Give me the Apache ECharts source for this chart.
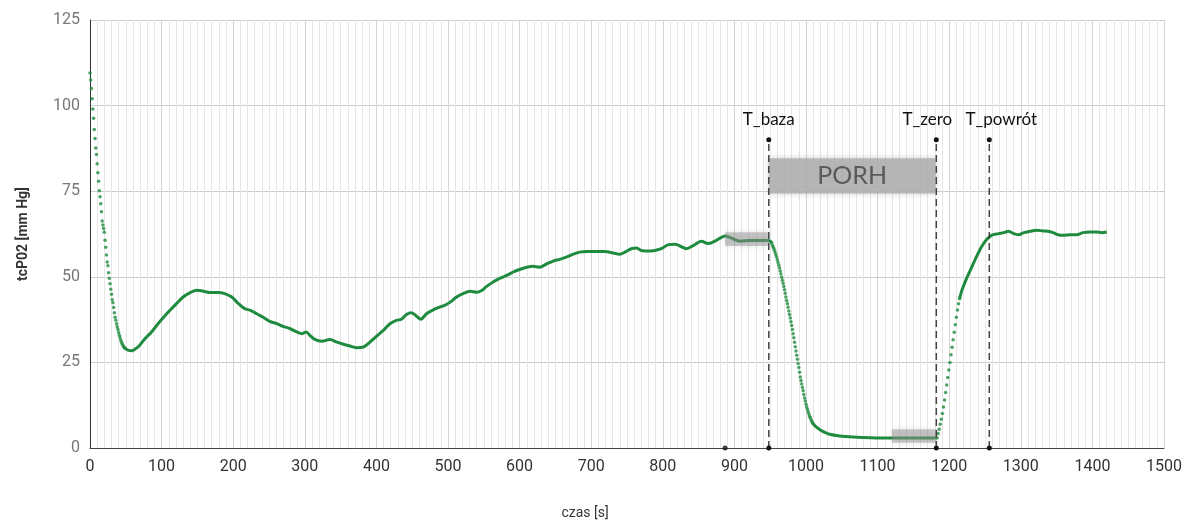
<!DOCTYPE html>
<html>
<head>
<meta charset="utf-8">
<script src="https://cdn.jsdelivr.net/npm/echarts@6/dist/echarts.min.js"></script>
<style>
html, body { margin: 0; padding: 0; background: #fff; }
#chart { width: 1184px; height: 520px; }
</style>
</head>
<body>
<div id="chart"></div>
<script>
// ============================
// Datos leídos del registro tcPO2
// ============================
// caída inicial, muestras de 1 s desde t = 0
var descentStart = 0;
var descentValues = [109.5, 107.5, 105, 102, 99, 96.3, 93, 90.4, 87.6, 85.7,
    83, 80.4, 77.9, 75.1, 73.4, 71.3, 69, 66.3, 65.1, 64.1,
    63, 60.7, 58.6, 56.4, 54.3, 53.2, 51.2, 49.6, 48, 46.4,
    44.9, 43.3, 42.4, 41, 39.5, 38.2, 37.3, 36.3, 35.4, 34.6,
    33.7, 32.9, 32.2, 31.5, 30.9, 30.4, 30, 29.6, 29.3, 29.1];

// oclusión (después de T_baza), muestras de 1 s
var dropStart = 952;
var dropValues = [60, 59.3, 58.8, 58.3, 57.7, 57, 56.4, 55.8, 55, 54.2,
    53.4, 52.6, 51.7, 50.8, 49.9, 49, 48.1, 47.2, 46.2, 45.2,
    44.1, 43.1, 42.1, 41.1, 40, 39, 38, 36.9, 35.8, 34.6,
    33.4, 32.2, 30.9, 29.6, 28.3, 27.1, 25.9, 24.7, 23.5, 22.1,
    20.7, 19.7, 18.7, 17.7, 16.7, 15.6, 14.6, 13.7, 12.8, 12,
    11.3, 10.6, 9.9, 9.3, 8.8, 8.3, 7.8, 7.4, 7.1];

// recuperación (después de T_zero)
var riseDots = [[1183, 3], [1184.5, 4.2], [1186, 5.5], [1187.5, 6.9], [1189, 8.4],
    [1190.5, 10.1], [1192, 12], [1193.5, 14], [1195, 16.2], [1196.5, 18.4],
    [1198, 20.6], [1199.5, 22.8], [1201, 25], [1202.5, 27.2], [1204, 29.4],
    [1205.5, 31.6], [1207, 33.8], [1208.5, 36], [1210, 38.2], [1211.5, 40.3],
    [1213, 42.1], [1214.5, 43.6]];

// tramos lentos (línea continua)
var trendA = [[49, 29.1], [53, 28.6], [58, 28.4], [63, 28.9], [68, 29.7], [77, 32], [86, 33.9],
    [95, 36.3], [105, 38.7], [114, 40.7], [121, 42.2], [130, 44.1], [140, 45.4], [149, 46.1],
    [158, 45.8], [168, 45.4], [179, 45.4], [188, 45.1], [198, 44.1], [207, 42.2], [216, 40.7],
    [224, 40.2], [233, 39.2], [242, 38.2], [251, 37], [261, 36.3], [270, 35.5], [279, 34.9],
    [289, 33.9], [296, 33.4], [302, 33.9], [307, 32.9], [314, 31.7], [324, 31.2], [335, 31.7],
    [345, 30.9], [354, 30.3], [363, 29.8], [372, 29.3], [382, 29.5], [391, 30.9], [400, 32.6],
    [410, 34.4], [419, 36.3], [428, 37.3], [435, 37.6], [442, 39], [449, 39.5], [456, 38.5],
    [462, 37.6], [470, 39.2], [480, 40.4], [489, 41.2], [496, 41.7], [503, 42.6], [512, 44.1],
    [521, 45.1], [531, 45.8], [540, 45.5], [547, 46], [554, 47.2], [563, 48.5], [573, 49.6],
    [582, 50.4], [591, 51.4], [601, 52.2], [610, 52.8], [619, 53.1], [628, 52.8], [638, 53.8],
    [647, 54.6], [656, 55.1], [666, 55.8], [675, 56.6], [684, 57.2], [694, 57.4], [708, 57.4],
    [719, 57.4], [729, 57], [740, 56.6], [747, 57.2], [756, 58.2], [763, 58.4], [770, 57.7],
    [780, 57.5], [789, 57.7], [798, 58.2], [808, 59.4], [817, 59.5], [824, 59], [833, 58.2],
    [843, 59.2], [854, 60.4], [863, 59.7], [870, 60.1], [880, 61.3], [887, 61.9], [896, 61.3],
    [908, 60.4], [922, 60.6], [936, 60.6], [947, 60.6], [950, 60.4], [952, 60]];
var trendB = [[1010, 7.1], [1015, 6], [1022, 5], [1033, 4], [1047, 3.5], [1066, 3.2],
    [1090, 3], [1120, 2.9], [1150, 2.9], [1180, 2.9], [1183, 3]];
var trendC = [[1214.5, 43.6], [1218, 46.2], [1224, 49.4], [1231, 52.6], [1238, 55.8], [1245, 58.7],
    [1252, 60.8], [1259, 62.1], [1269, 62.6], [1276, 62.9], [1283, 63.3], [1290, 62.6],
    [1297, 62.3], [1304, 62.9], [1313, 63.3], [1322, 63.6], [1331, 63.4], [1338, 63.3],
    [1345, 62.9], [1352, 62.3], [1359, 62.1], [1369, 62.3], [1378, 62.3], [1387, 62.9],
    [1397, 63.1], [1406, 63.1], [1413, 62.9], [1420, 63.1]];

// eventos del test PORH
var eventNames = ["T_baza", "T_zero", "T_powrót"];
var eventTimes = [948, 1182, 1256];
var eventTop = 90;
var baselineStart = 887;
var baseBox = [[887, 59], [948, 63]];
var porhBox = [[948, 74.3], [1181, 84.6]];
var zeroBox = [[1120, 1.5], [1182, 5.5]];

// ============================
// Construcción del gráfico
// ============================
var GREEN = "#1f8b3f";

function samples(start, step, values) {
    return values.map((v, i) => [start + i * step, v]);
}

var dots = samples(descentStart, 1, descentValues)
    .concat(samples(dropStart, 1, dropValues))
    .concat(riseDots);

function trendSeries(data) {
    return {
        type: "line",
        data: data,
        showSymbol: false,
        smooth: 0.3,
        lineStyle: { color: GREEN, width: 3 },
        z: 2
    };
}

var labelShift = [0, -9, 12];
var eventSeries = eventTimes.map((t, i) => ({
    type: "line",
    z: 5,
    clip: false,
    symbol: "circle",
    symbolSize: 5,
    itemStyle: { color: "#111" },
    lineStyle: { color: "#444", width: 1.5, type: [7, 4] },
    data: [
        [t, 0],
        {
            value: [t, eventTop],
            label: {
                show: true,
                position: "top",
                distance: 9,
                offset: [labelShift[i], 0],
                formatter: eventNames[i],
                fontFamily: "Lato",
                fontSize: 17,
                color: "#111"
            }
        }
    ]
}));

function box(b, extra) {
    return [Object.assign({ coord: b[0] }, extra || {}), { coord: b[1] }];
}

var chart = echarts.init(document.getElementById("chart"));
chart.setOption({
    animation: false,
    grid: { left: 90, right: 20, top: 20, bottom: 72, outerBoundsMode: "none" },
    xAxis: {
        type: "value",
        min: 0,
        max: 1500,
        interval: 100,
        name: "czas [s]",
        nameLocation: "middle",
        nameGap: 58,
        nameTextStyle: { fontFamily: "Roboto", fontSize: 14, color: "#333", padding: [0, 84, 0, 0] },
        axisLine: { show: true, onZero: false, lineStyle: { color: "#444" } },
        axisTick: { show: false },
        axisLabel: { fontFamily: "Roboto", fontSize: 16, color: "#333", margin: 11, formatter: v => String(v) },
        splitLine: { show: true, lineStyle: { color: "#d4d4d4" } },
        minorTick: { show: false, splitNumber: 10 },
        minorSplitLine: { show: true, lineStyle: { color: "#e6e6e6" } }
    },
    yAxis: {
        type: "value",
        min: 0,
        max: 125,
        interval: 25,
        name: "tcP02 [mm Hg]",
        nameLocation: "middle",
        nameGap: 60,
        nameTextStyle: { fontFamily: "Roboto", fontSize: 14, fontWeight: "bold", color: "#333" },
        axisLine: { show: true, lineStyle: { color: "#333" } },
        axisTick: { show: false },
        axisLabel: { fontFamily: "Roboto", fontSize: 16, color: "#777", margin: 10 },
        splitLine: { show: true, lineStyle: { color: "#cccccc" } }
    },
    series: [
        Object.assign(trendSeries(trendA), {
            markArea: {
                silent: true,
                z: 3,
                itemStyle: {
                    color: "rgba(150,150,150,0.5)",
                    shadowBlur: 6,
                    shadowColor: "rgba(0,0,0,0.2)"
                },
                data: [
                    box(baseBox),
                    box(zeroBox),
                    box(porhBox, {
                        itemStyle: { color: "rgba(175,175,175,0.85)" },
                        label: {
                            show: true,
                            position: "inside",
                            formatter: "PORH",
                            fontFamily: "Lato",
                            fontSize: 25,
                            color: "#5a5a5a"
                        }
                    })
                ]
            }
        }),
        trendSeries(trendB),
        trendSeries(trendC),
        {
            type: "scatter",
            data: dots,
            symbolSize: 3.5,
            itemStyle: { color: GREEN },
            z: 2
        },
        {
            type: "scatter",
            data: [[baselineStart, 0]],
            clip: false,
            symbolSize: 5,
            itemStyle: { color: "#111" },
            z: 5
        }
    ].concat(eventSeries)
});
</script>
</body>
</html>
